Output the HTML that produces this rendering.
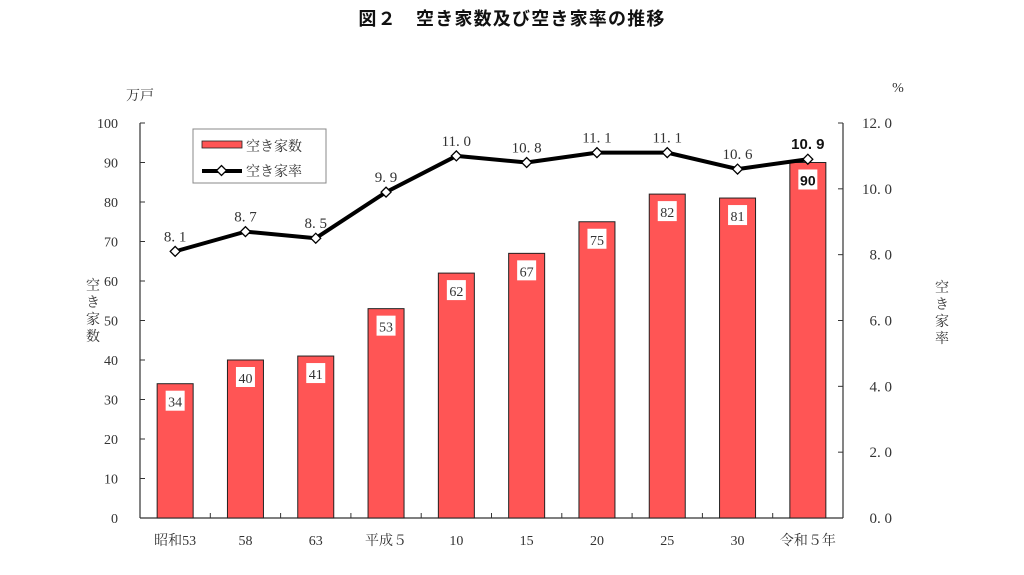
<!DOCTYPE html>
<html><head><meta charset="utf-8"><style>
body{margin:0;background:#fff;}
svg text{font-family:"Liberation Serif","Noto Serif CJK SC",serif;fill:#333;}
</style></head><body>
<svg id="c" width="1024" height="570" xmlns="http://www.w3.org/2000/svg">
<text x="512" y="25" text-anchor="middle" font-size="18" letter-spacing="1.2" font-weight="bold" style="font-family:'Liberation Sans','Noto Sans CJK JP',sans-serif;fill:#111">図２　空き家数及び空き家率の推移</text>
<text x="140" y="100" text-anchor="middle" font-size="14">万戸</text>
<text x="898" y="92" text-anchor="middle" font-size="14">%</text>
<text font-size="14"><tspan x="86" y="290">空</tspan><tspan x="86" y="307">き</tspan><tspan x="86" y="324">家</tspan><tspan x="86" y="341">数</tspan></text>
<text font-size="14"><tspan x="935" y="292">空</tspan><tspan x="935" y="309">き</tspan><tspan x="935" y="326">家</tspan><tspan x="935" y="343">率</tspan></text>
<g id="g"></g>
<g>
<rect x="193" y="129" width="133" height="54" fill="#fff" stroke="#888" stroke-width="1"/>
<rect x="202" y="141" width="40" height="7" fill="#ff5555" stroke="#222" stroke-width="0.8"/>
<text x="246" y="151" font-size="14">空き家数</text>
<line x1="202" y1="171" x2="242" y2="171" stroke="#000" stroke-width="4"/>
<rect x="218" y="167" width="7" height="7" fill="#fff" stroke="#000" stroke-width="1.3" transform="rotate(45 221.5 170.5)"/>
<text x="246" y="176" font-size="14">空き家率</text>
</g>
</svg>
<script>
const categories=["昭和53","58","63","平成５","10","15","20","25","30","令和５年"];
const counts=[34,40,41,53,62,67,75,82,81,90];
const rates=[8.1,8.7,8.5,9.9,11.0,10.8,11.1,11.1,10.6,10.9];
const leftTicks=[0,10,20,30,40,50,60,70,80,90,100];
const rightTicks=[0,2,4,6,8,10,12];
const NS="http://www.w3.org/2000/svg";
const g=document.getElementById('g');
const X0=140,X1=843,Y0=518,Y1=123;
const bw=(X1-X0)/categories.length;
const xc=i=>X0+bw*(i+0.5);
const yL=v=>Y0-(v/100)*(Y0-Y1);
const yR=v=>Y0-(v/12)*(Y0-Y1);
function el(t,a,p){const e=document.createElementNS(NS,t);for(const k in a)e.setAttribute(k,a[k]);(p||g).appendChild(e);return e;}
let ax=el('line',{x1:X0,y1:Y1,x2:X0,y2:Y0,stroke:'#333','stroke-width':1.2});


ax=el('line',{x1:X1,y1:Y1,x2:X1,y2:Y0,stroke:'#333','stroke-width':1.2});


ax=el('line',{x1:X0,y1:Y0,x2:X1,y2:Y0,stroke:'#333','stroke-width':1.2});


leftTicks.forEach(v=>{
 el('line',{x1:X0,y1:yL(v),x2:X0+5,y2:yL(v),stroke:'#333'});
 const t=el('text',{x:118,y:yL(v)+5,'text-anchor':'end','font-size':14});t.textContent=v;
 
 
});
rightTicks.forEach(v=>{
 el('line',{x1:X1-5,y1:yR(v),x2:X1,y2:yR(v),stroke:'#333'});
 const t=el('text',{x:892,y:yR(v)+5,'text-anchor':'end','font-size':15});t.textContent=v.toFixed(1).replace('.', '. ');
 
 
});
for(let i=1;i<categories.length;i++){el('line',{x1:X0+bw*i,y1:Y0-5,x2:X0+bw*i,y2:Y0,stroke:'#333'});}
categories.forEach((c,i)=>{
 const t=el('text',{x:xc(i),y:545,'text-anchor':'middle','font-size':14});t.textContent=c;
 
 
});
counts.forEach((v,i)=>{
 const r=el('rect',{x:xc(i)-18,y:yL(v),width:36,height:Y0-yL(v),fill:'#ff5555',stroke:'#222','stroke-width':1});
 
 
 el('rect',{x:xc(i)-9.5,y:yL(v)+7,width:19,height:20,fill:'#fff'});
 const t=el('text',{x:xc(i),y:yL(v)+23,'text-anchor':'middle','font-size':14});t.textContent=v;
 if(i===counts.length-1){t.setAttribute('font-weight','bold');t.setAttribute('style','font-family:"Liberation Sans",sans-serif;fill:#111');}
 
 
});
const pl=el('polyline',{points:rates.map((v,i)=>xc(i)+','+yR(v)).join(' '),fill:'none',stroke:'#000','stroke-width':4,'stroke-linejoin':'round'});


rates.forEach((v,i)=>{
 const x=xc(i),y=yR(v);
 const m=el('rect',{x:x-3.5,y:y-3.5,width:7,height:7,fill:'#fff',stroke:'#000','stroke-width':1.3,transform:`rotate(45 ${x} ${y})`});
 
 
 const t=el('text',{x:x,y:y-10,'text-anchor':'middle','font-size':15});t.textContent=v.toFixed(1).replace('.', '. ');
 if(i===rates.length-1){t.setAttribute('font-weight','bold');t.setAttribute('style','font-family:"Liberation Sans",sans-serif;fill:#111');}
 
 
});
</script>
</body></html>
